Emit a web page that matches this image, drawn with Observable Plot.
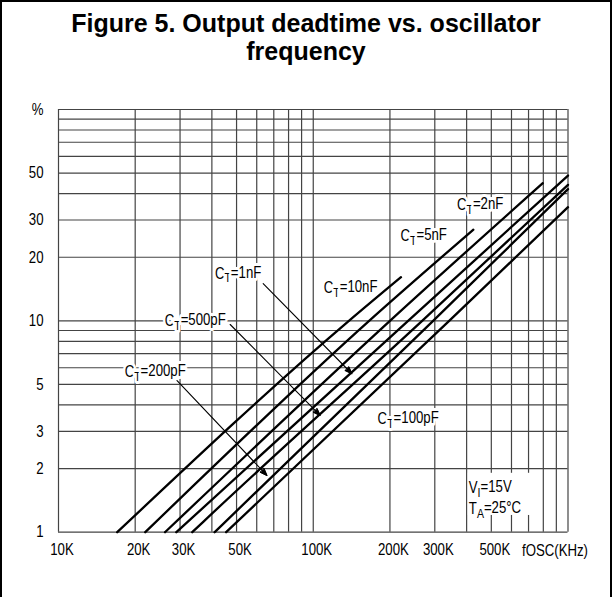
<!DOCTYPE html>
<html><head><meta charset="utf-8">
<script src="https://cdn.jsdelivr.net/npm/d3@7"></script>
<script src="https://cdn.jsdelivr.net/npm/@observablehq/plot@0.6"></script>
<style>
body{margin:0;background:#fff}
#wrap{position:relative;width:612px;height:597px;overflow:hidden;background:#fff}
#chart{position:absolute;left:0;top:0}
#title{position:absolute;left:0;top:0;width:612px;text-align:center;font:bold 25px "Liberation Sans",Arial,sans-serif;line-height:28px;padding-top:9px;color:#000}
#border{position:absolute;left:0;top:0;width:612px;height:604px;box-sizing:border-box;border:2px solid #000;pointer-events:none}
</style></head>
<body>
<div id="wrap"><div id="chart"></div><div id="title">Figure 5. Output deadtime vs. oscillator<br>frequency</div><div id="border"></div></div>
<script>
// ---- data (frequency in kHz, deadtime in %) ----
const seriesNames = ["10nF","5nF","2nF","1nF","500pF","200pF","100pF"];
const seriesFreqKHz = [
  [17.0, 138, 221],
  [21.9, 165.7, 425],
  [26.2, 200, 796],
  [29.0, 235.7, 1000],
  [33.5, 37, 267.6, 1000],
  [41, 295.5, 1000],
  [45.5, 341.6, 1000]
];
const seriesPct = [
  [1, 10, 16.1],
  [1, 10, 27],
  [1, 10, 44.8],
  [1, 10, 48.7],
  [1, 1.12, 10, 44],
  [1, 10, 42],
  [1, 10, 34.5]
];

const xTickKHz = [10, 20, 30, 50, 100, 200, 300, 500];
const xTickLabels = ["10K","20K","30K","50K","100K","200K","300K","500K"];
const xAxisTitle = "fOSC(KHz)";
const xAxisTitleKHz = 1000;
const yTicks = [1, 2, 3, 5, 10, 20, 30, 50, 100];
const yTickLabels = ["1","2","3","5","10","20","30","50","%"];

const xGridKHz = [10,20,30,40,50,60,70,80,90,100,200,300,400,500,600,700,800,900,1000];
const yGridPct = [1,2,3,4,5,6,7,8,9,10,20,30,40,50,60,70,80,90,100];

const labelTexts = ["C_T=10nF","C_T=5nF","C_T=2nF","C_T=1nF","C_T=500pF","C_T=200pF","C_T=100pF"];
const labelFreqKHz = [140.2, 271.3, 451.9, 50.7, 34.4, 23.96, 235.8];
const labelPct = [14.3, 25.2, 35.6, 16.8, 10.04, 5.77, 3.45];

const arrowFromKHz = [63.6, 47.2, 29.2];
const arrowFromPct = [15.0, 9.61, 5.22];
const arrowToKHz = [141.8, 106.4, 65.8];
const arrowToPct = [5.62, 3.57, 1.855];

const noteTexts = ["V_I=15V", "T_A=25°C"];
const noteFreqKHz = [408, 408];
const notePct = [1.627, 1.295];
const noteBoxKHz = [406, 740];
const noteBoxPct = [1.2, 1.9];

// ---- build tables ----
const lineRows = [];
seriesNames.forEach((n, i) => seriesFreqKHz[i].forEach((f, j) => lineRows.push({ct: n, f: f * 1000, p: seriesPct[i][j]})));
const labelRows = labelTexts.map((t, i) => ({t, f: labelFreqKHz[i] * 1000, p: labelPct[i]}));
const arrowRows = arrowFromKHz.map((f, i) => ({x1: f * 1000, y1: arrowFromPct[i], x2: arrowToKHz[i] * 1000, y2: arrowToPct[i]}));
const noteRows = noteTexts.map((t, i) => ({t, f: noteFreqKHz[i] * 1000, p: notePct[i]}));
const boxRows = [{x1: noteBoxKHz[0] * 1000, x2: noteBoxKHz[1] * 1000, y1: noteBoxPct[0], y2: noteBoxPct[1]}];
const xTickMap = new Map(xTickKHz.map((k, i) => [k * 1000, xTickLabels[i]]));
const yTickMap = new Map(yTicks.map((v, i) => [v, yTickLabels[i]]));

const FONT = '"Liberation Sans",Arial,sans-serif';
const FS = 16.5;

const chart = Plot.plot({
  width: 612, height: 597,
  marginLeft: 58, marginRight: 44.5, marginTop: 109, marginBottom: 65.3,
  x: {type: "log", domain: [1e4, 1e6]},
  y: {type: "log", domain: [1, 100]},
  style: {fontFamily: FONT, fontSize: FS + "px", color: "#000", background: "transparent"},
  marks: [
    Plot.ruleX(xGridKHz.map(k => k * 1000), {stroke: "#444", strokeWidth: 1.2}),
    Plot.ruleY(yGridPct, {stroke: "#444", strokeWidth: 1.2}),
    Plot.rect(boxRows, {x1: "x1", x2: "x2", y1: "y1", y2: "y2", fill: "white"}),
    Plot.line(lineRows, {x: "f", y: "p", z: "ct", stroke: "black", strokeWidth: 2.3, curve: "monotone-x"}),
    Plot.arrow(arrowRows, {x1: "x1", y1: "y1", x2: "x2", y2: "y2", stroke: "black", strokeWidth: 1.1, headLength: 10, headAngle: 40, ariaLabel: "arrow"}),
    Plot.text(labelRows, {x: "f", y: "p", text: "t", fill: "black", stroke: "white", strokeWidth: 6, fontSize: FS}),
    Plot.text(noteRows, {x: "f", y: "p", text: "t", fill: "black", textAnchor: "start", fontSize: FS}),
    Plot.axisX({ticks: xTickKHz.map(k => k * 1000), tickFormat: d => xTickMap.get(d), tickSize: 0, tickPadding: 11, dx: 3.5, fontSize: FS}),
    Plot.text([xAxisTitle], {x: () => xAxisTitleKHz * 1000, y: () => 1, text: d => d, dy: 18.5, dx: -13, fill: "black", fontSize: FS}),
    Plot.axisY({ticks: yTicks, tickFormat: d => yTickMap.get(d), tickSize: 0, tickPadding: 15, fontSize: FS})
  ]
});

// subscripts: "X_Y..." -> X with subscript Y
d3.select(chart).selectAll("text").each(function() {
  const t = this.textContent;
  const m = t.match(/^(.*?)_(.)(.*)$/);
  if (!m) return;
  const el = d3.select(this);
  el.text(null);
  el.append("tspan").text(m[1]);
  el.append("tspan").attr("dy", "0.3em").attr("font-size", "80%").text(m[2]);
  el.append("tspan").attr("dy", "-0.3em").text(m[3]);
});

// filled arrowheads
d3.select(chart).selectAll('g[aria-label="arrow"] path').each(function() {
  const nums = (this.getAttribute("d").match(/-?\d*\.?\d+(?:e[-+]?\d+)?/g) || []).map(Number);
  if (nums.length < 10) return;
  const pts = [];
  for (let i = 0; i + 1 < nums.length; i += 2) pts.push([nums[i], nums[i + 1]]);
  const n = pts.length;
  const tri = [pts[n - 3], pts[n - 2], pts[n - 1]];
  d3.select(this.parentNode).append("path")
    .attr("d", "M" + tri.map(p => p.join(",")).join("L") + "Z")
    .attr("fill", "black").attr("stroke", "black").attr("stroke-width", 0.8);
});

// condensed look: compress glyphs horizontally around each text's anchor
d3.select(chart).selectAll("text").each(function() {
  const tr = this.getAttribute("transform");
  if (tr) {
    this.setAttribute("transform", tr + " scale(0.8,1)");
  } else {
    const x = parseFloat(this.getAttribute("x")) || 0;
    this.setAttribute("transform", `translate(${x},0) scale(0.8,1) translate(${-x},0)`);
  }
});

document.getElementById("chart").append(chart);
</script>
</body></html>
